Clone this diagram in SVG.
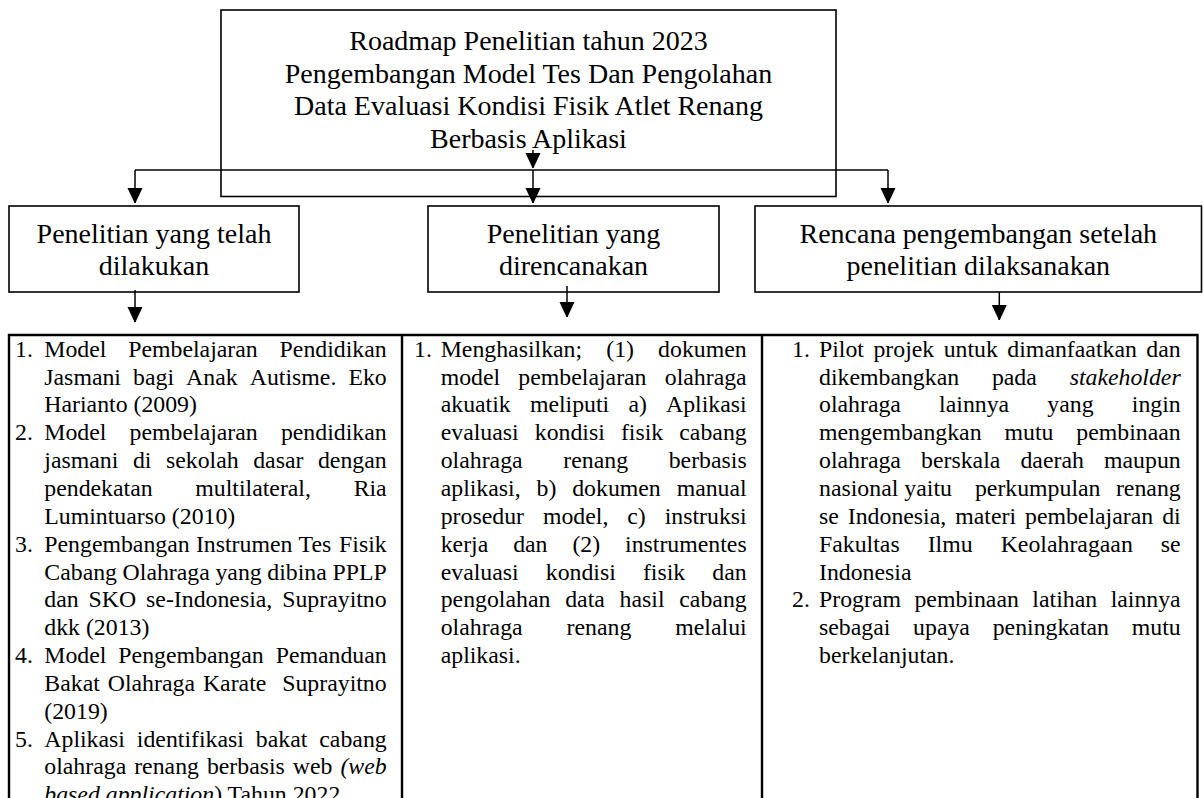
<svg xmlns="http://www.w3.org/2000/svg" width="1203" height="798" viewBox="0 0 1203 798">
<defs>
<style>
text{font-family:"Liberation Serif","Times New Roman",serif;fill:#000}
.hd{font-size:28px;text-anchor:middle}
.ct{font-size:23.8px}
.it{font-style:italic}
.box{fill:#fff;stroke:#000;stroke-width:1.6}
.cbox{fill:none;stroke:#000;stroke-width:2.4}
.ln{fill:none;stroke:#000;stroke-width:1.5}
</style>
<marker id="ah" viewBox="0 0 15 16" refX="15" refY="7.5" markerWidth="15" markerHeight="16" markerUnits="userSpaceOnUse" orient="auto">
<path d="M0,0 L16,7.5 L0,15 z" fill="#000"/>
</marker>
</defs>
<rect width="1203" height="798" fill="#fff"/>

<g id="top">
<rect class="box" x="221" y="10" width="615" height="186.5"/>
<text class="hd" x="528.5" y="50">Roadmap Penelitian tahun 2023</text>
<text class="hd" x="528.5" y="82.5">Pengembangan Model Tes Dan Pengolahan</text>
<text class="hd" x="528.5" y="115">Data Evaluasi Kondisi Fisik Atlet Renang</text>
<text class="hd" x="528.5" y="147.5">Berbasis Aplikasi</text>
</g>

<g id="h1">
<rect class="box" x="9" y="206" width="290" height="86"/>
<text class="hd" x="154" y="243">Penelitian yang telah</text>
<text class="hd" x="154" y="274.5">dilakukan</text>
</g>
<g id="h2">
<rect class="box" x="428" y="206" width="291" height="86"/>
<text class="hd" x="573.5" y="243">Penelitian yang</text>
<text class="hd" x="573.5" y="274.5">direncanakan</text>
</g>
<g id="h3">
<rect class="box" x="755" y="206" width="446.5" height="86"/>
<text class="hd" x="978.3" y="243">Rencana pengembangan setelah</text>
<text class="hd" x="978.3" y="274.5">penelitian dilaksanakan</text>
</g>

<g id="connectors">
<path class="ln" d="M135,170 H888"/>
<path class="ln" d="M533,150 V168" marker-end="url(#ah)"/>
<path class="ln" d="M533,170 V203" marker-end="url(#ah)"/>
<path class="ln" d="M135,170 V203" marker-end="url(#ah)"/>
<path class="ln" d="M888,170 V203" marker-end="url(#ah)"/>
<path class="ln" d="M135,290 V322" marker-end="url(#ah)"/>
<path class="ln" d="M567,286 V317" marker-end="url(#ah)"/>
<path class="ln" d="M999.3,292 V320" marker-end="url(#ah)"/>
</g>

<g id="content">
<path class="cbox" d="M9,800 V335 H1197.5 V800 M402,335 V800 M762,335 V800"/>
</g>

<g id="col1">
<text class="ct" x="15" y="356.7">1.</text>
<text class="ct" y="356.7"><tspan x="44.3">Model</tspan><tspan x="128.2">Pembelajaran</tspan><tspan x="279.6">Pendidikan</tspan></text>
<text class="ct" y="384.55"><tspan x="44.3">Jasmani</tspan><tspan x="133.05">bagi</tspan><tspan x="186.1">Anak</tspan><tspan x="249.75">Autisme.</tspan><tspan x="348.4">Eko</tspan></text>
<text class="ct" x="44.3" y="412.4">Harianto (2009)</text>
<text class="ct" x="15" y="440.25">2.</text>
<text class="ct" y="440.25"><tspan x="44.3">Model</tspan><tspan x="129.6">pembelajaran</tspan><tspan x="280.9">pendidikan</tspan></text>
<text class="ct" y="468.1"><tspan x="44.3">jasmani</tspan><tspan x="132.89">di</tspan><tspan x="165.96">sekolah</tspan><tspan x="253.22">dasar</tspan><tspan x="317.97">dengan</tspan></text>
<text class="ct" y="495.95"><tspan x="44.3">pendekatan</tspan><tspan x="195.3">multilateral,</tspan><tspan x="353.64">Ria</tspan></text>
<text class="ct" x="44.3" y="523.8">Lumintuarso (2010)</text>
<text class="ct" x="15" y="551.65">3.</text>
<text class="ct" y="551.65"><tspan x="44.3">Pengembangan</tspan><tspan x="195.89">Instrumen</tspan><tspan x="298.57">Tes</tspan><tspan x="339.08">Fisik</tspan></text>
<text class="ct" y="579.5"><tspan x="44.3">Cabang</tspan><tspan x="122.62">Olahraga</tspan><tspan x="215.46">yang</tspan><tspan x="267.34">dibina</tspan><tspan x="332.46">PPLP</tspan></text>
<text class="ct" y="607.35"><tspan x="44.3">dan</tspan><tspan x="88.58">SKO</tspan><tspan x="146.09">se-Indonesia,</tspan><tspan x="282.24">Suprayitno</tspan></text>
<text class="ct" x="44.3" y="635.2">dkk (2013)</text>
<text class="ct" x="15" y="663.05">4.</text>
<text class="ct" y="663.05"><tspan x="44.3">Model</tspan><tspan x="118.34">Pengembangan</tspan><tspan x="275.65">Pemanduan</tspan></text>
<text class="ct" y="690.9"><tspan x="44.3">Bakat</tspan><tspan x="107.77">Olahraga</tspan><tspan x="202.94">Karate</tspan><tspan x="282.24">Suprayitno</tspan></text>
<text class="ct" x="44.3" y="718.75">(2019)</text>
<text class="ct" x="15" y="746.6">5.</text>
<text class="ct" y="746.6"><tspan x="44.3">Aplikasi</tspan><tspan x="136.86">identifikasi</tspan><tspan x="255.86">bakat</tspan><tspan x="319.3">cabang</tspan></text>
<text class="ct" y="774.45"><tspan x="44.3">olahraga</tspan><tspan x="134.19">renang</tspan><tspan x="206.9">berbasis</tspan><tspan x="292.84">web</tspan><tspan class="it" x="340.43">(web</tspan></text>
<text class="ct" x="44.3" y="802.3"><tspan class="it">based application</tspan>) Tahun 2022</text>
</g>

<g id="col2">
<text class="ct" x="414" y="356.7">1.</text>
<text class="ct" y="356.7"><tspan x="440.7">Menghasilkan;</tspan><tspan x="606.27">(1)</tspan><tspan x="658.12">dokumen</tspan></text>
<text class="ct" y="384.55"><tspan x="440.7">model</tspan><tspan x="518.37">pembelajaran</tspan><tspan x="664.76">olahraga</tspan></text>
<text class="ct" y="412.4"><tspan x="440.7">akuatik</tspan><tspan x="529.91">meliputi</tspan><tspan x="628.4">a)</tspan><tspan x="666.04">Aplikasi</tspan></text>
<text class="ct" y="440.25"><tspan x="440.7">evaluasi</tspan><tspan x="534.76">kondisi</tspan><tspan x="620.92">fisik</tspan><tspan x="679.3">cabang</tspan></text>
<text class="ct" y="468.1"><tspan x="440.7">olahraga</tspan><tspan x="563.29">renang</tspan><tspan x="668.71">berbasis</tspan></text>
<text class="ct" y="495.95"><tspan x="440.7">aplikasi,</tspan><tspan x="536.53">b)</tspan><tspan x="572.2">dokumen</tspan><tspan x="676.63">manual</tspan></text>
<text class="ct" y="523.8"><tspan x="440.7">prosedur</tspan><tspan x="542.91">model,</tspan><tspan x="627.29">c)</tspan><tspan x="664.71">instruksi</tspan></text>
<text class="ct" y="551.65"><tspan x="440.7">kerja</tspan><tspan x="513.17">dan</tspan><tspan x="572.43">(2)</tspan><tspan x="625.06">instrumentes</tspan></text>
<text class="ct" y="579.5"><tspan x="440.7">evaluasi</tspan><tspan x="545.77">kondisi</tspan><tspan x="642.94">fisik</tspan><tspan x="712.33">dan</tspan></text>
<text class="ct" y="607.35"><tspan x="440.7">pengolahan</tspan><tspan x="565.18">data</tspan><tspan x="619.59">hasil</tspan><tspan x="679.3">cabang</tspan></text>
<text class="ct" y="635.2"><tspan x="440.7">olahraga</tspan><tspan x="566.59">renang</tspan><tspan x="675.3">melalui</tspan></text>
<text class="ct" x="440.7" y="663.05">aplikasi.</text>
</g>

<g id="col3">
<text class="ct" x="792" y="356.7">1.</text>
<text class="ct" y="356.7"><tspan x="819">Pilot</tspan><tspan x="873.43">projek</tspan><tspan x="943.69">untuk</tspan><tspan x="1007.36">dimanfaatkan</tspan><tspan x="1146.33">dan</tspan></text>
<text class="ct" y="384.55"><tspan x="819">dikembangkan</tspan><tspan x="991.92">pada</tspan><tspan class="it" x="1069.65">stakeholder</tspan></text>
<text class="ct" y="412.4"><tspan x="819">olahraga</tspan><tspan x="939.1">lainnya</tspan><tspan x="1047.33">yang</tspan><tspan x="1131.77">ingin</tspan></text>
<text class="ct" y="440.25"><tspan x="819">mengembangkan</tspan><tspan x="1004.47">mutu</tspan><tspan x="1076.27">pembinaan</tspan></text>
<text class="ct" y="468.1"><tspan x="819">olahraga</tspan><tspan x="921.05">berskala</tspan><tspan x="1020.46">daerah</tspan><tspan x="1104.02">maupun</tspan></text>
<text class="ct" y="495.95"><tspan x="819">nasional</tspan><tspan x="904.33">yaitu</tspan><tspan x="974.93">perkumpulan</tspan><tspan x="1115.94">renang</tspan></text>
<text class="ct" y="523.8"><tspan x="819">se</tspan><tspan x="847.79">Indonesia,</tspan><tspan x="955.23">materi</tspan><tspan x="1025">pembelajaran</tspan><tspan x="1162.18">di</tspan></text>
<text class="ct" y="551.65"><tspan x="819">Fakultas</tspan><tspan x="927.69">Ilmu</tspan><tspan x="1000.68">Keolahragaan</tspan><tspan x="1160.87">se</tspan></text>
<text class="ct" x="819" y="579.5">Indonesia</text>
<text class="ct" x="792" y="607.35">2.</text>
<text class="ct" y="607.35"><tspan x="819">Program</tspan><tspan x="914.45">pembinaan</tspan><tspan x="1032.36">latihan</tspan><tspan x="1110.63">lainnya</tspan></text>
<text class="ct" y="635.2"><tspan x="819">sebagai</tspan><tspan x="913.12">upaya</tspan><tspan x="992.69">peningkatan</tspan><tspan x="1131.77">mutu</tspan></text>
<text class="ct" x="819" y="663.05">berkelanjutan.</text>
</g>
</svg>
